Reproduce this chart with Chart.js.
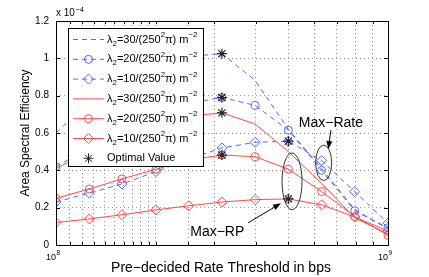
<!DOCTYPE html>
<html>
<head>
<meta charset="utf-8">
<script src="https://cdn.jsdelivr.net/npm/chart.js@4.4.0/dist/chart.umd.min.js"></script>
<style>
html, body { margin: 0; padding: 0; background: #fff; }
#wrap { width: 429px; height: 277px; }
</style>
</head>
<body>
<div id="wrap"><canvas id="chart"></canvas></div>
<script>
// rate thresholds (bps), log spaced
const thresholds = [1e8, 1.26e8, 1.58e8, 2e8, 2.51e8, 3.16e8, 3.98e8, 5.01e8, 6.31e8, 7.94e8, 1e9];

// area spectral efficiency, x 1e-4
const maxRate30 = [0.60, 0.77, 0.89, 0.97, 1.01, 1.025, 0.882, 0.62, 0.41, 0.19, 0.085];
const maxRate20 = [0.42, 0.52, 0.61, 0.69, 0.76, 0.79, 0.748, 0.615, 0.40, 0.183, 0.092];
const maxRate10 = [0.23, 0.278, 0.327, 0.393, 0.46, 0.52, 0.55, 0.556, 0.452, 0.286, 0.117];
const maxRp30 = [0.41, 0.50, 0.58, 0.64, 0.69, 0.708, 0.648, 0.50, 0.33, 0.145, 0.06];
const maxRp20 = [0.25, 0.30, 0.354, 0.406, 0.455, 0.482, 0.473, 0.406, 0.286, 0.153, 0.052];
const maxRp10 = [0.12, 0.14, 0.162, 0.188, 0.21, 0.23, 0.243, 0.247, 0.215, 0.15, 0.075];

const optimalX = [3.16e8, 3.16e8, 3.16e8, 3.16e8, 5.01e8, 5.01e8];
const optimalY = [1.025, 0.79, 0.708, 0.482, 0.556, 0.247];

const densities = ['30', '20', '10', '30', '20', '10'];
const yTicks = [0, 0.2, 0.4, 0.6, 0.8, 1, 1.2];
const xTickExp = { 1e8: '8', 1e9: '9' };

const blue = '#5568ee';
const red = '#ff4848';
const dark = '#222';
const FONT = '"Liberation Sans", Arial, Helvetica, sans-serif';

const pts = ys => ys.map((y, i) => ({ x: thresholds[i], y: y }));

const series = [
    { data: maxRate30, color: blue, dash: [5, 4], style: false },
    { data: maxRate20, color: blue, dash: [5, 4], style: 'circle' },
    { data: maxRate10, color: blue, dash: [5, 4], style: 'rectRot' },
    { data: maxRp30, color: red, dash: [], style: false },
    { data: maxRp20, color: red, dash: [], style: 'circle' },
    { data: maxRp10, color: red, dash: [], style: 'rectRot' }
];

const datasets = [{
    label: 'Optimal Value',
    data: optimalX.map((x, i) => ({ x: x, y: optimalY[i] })),
    showLine: false,
    pointStyle: 'star',
    pointRadius: 5,
    borderColor: dark,
    borderWidth: 1.2,
    backgroundColor: 'transparent'
}].concat(series.map((s, i) => ({
    label: densities[i],
    data: pts(s.data),
    showLine: true,
    borderColor: s.color,
    borderWidth: 1,
    borderDash: s.dash,
    backgroundColor: 'transparent',
    pointStyle: s.style || 'circle',
    pointRadius: s.style ? (s.style === 'rectRot' ? 5 : 4) : 0,
    pointBorderWidth: 1,
    pointBorderColor: s.color,
    pointBackgroundColor: 'transparent'
})));

// annotations in data units (ellipse rx in px)
const ellipses = [
    { x: 5.14e8, y: 0.341, rx: 10, ry: 0.152 },
    { x: 6.4e8, y: 0.44, rx: 8, ry: 0.095 }
];
const arrows = [
    { from: [6.73e8, 0.615], to: [6.61e8, 0.514] },
    { from: [3.79e8, 0.119], to: [4.76e8, 0.223] }
];
const notes = [
    { text: 'Max\u2212Rate', x: 6.73e8, y: 0.634 },
    { text: 'Max\u2212RP', x: 3.06e8, y: 0.047 }
];

function drawRich(ctx, segs, x, y, size) {
    ctx.textBaseline = 'middle';
    ctx.textAlign = 'left';
    segs.forEach(seg => {
        const small = seg[1] !== 0;
        ctx.font = (small ? size * 0.72 : size) + 'px ' + FONT;
        const dy = seg[1] === 1 ? size * 0.35 : (seg[1] === -1 ? -size * 0.42 : 0);
        ctx.fillText(seg[0], x, y + dy);
        x += ctx.measureText(seg[0]).width;
    });
}

function lambdaLabel(d) {
    return [['\u03bb', 0], ['2', 1], ['=' + d + '/(250', 0], ['2', -1], ['\u03c0) m', 0], ['\u22122', -1]];
}

const decorPlugin = {
    id: 'decor',
    afterDraw(chart) {
        const ctx = chart.ctx;
        const a = chart.chartArea;
        const xs = chart.scales.x, ys = chart.scales.y;
        ctx.save();

        // box
        ctx.strokeStyle = '#000';
        ctx.lineWidth = 1;
        ctx.setLineDash([]);
        ctx.strokeRect(a.left + 0.5, a.top + 0.5, a.right - a.left, a.bottom - a.top);

        // inward ticks
        ctx.beginPath();
        ys.ticks.forEach(t => {
            const py = Math.round(ys.getPixelForValue(t.value)) + 0.5;
            ctx.moveTo(a.left, py); ctx.lineTo(a.left + 4, py);
            ctx.moveTo(a.right, py); ctx.lineTo(a.right - 4, py);
        });
        xs.ticks.forEach(t => {
            const px = Math.round(xs.getPixelForValue(t.value)) + 0.5;
            const len = xTickExp[t.value] ? 5 : 3;
            ctx.moveTo(px, a.bottom); ctx.lineTo(px, a.bottom - len);
            ctx.moveTo(px, a.top); ctx.lineTo(px, a.top + len);
        });
        ctx.stroke();

        // decade labels 10^n under the x axis
        ctx.fillStyle = '#000';
        ctx.textBaseline = 'alphabetic';
        xs.ticks.forEach(t => {
            const e = xTickExp[t.value];
            if (!e) return;
            const px = xs.getPixelForValue(t.value);
            ctx.font = '9px ' + FONT;
            ctx.textAlign = 'right';
            ctx.fillText('10', px, a.bottom + 14.5);
            ctx.font = '6.5px ' + FONT;
            ctx.textAlign = 'left';
            ctx.fillText(e, px + 0.5, a.bottom + 10);
        });

        // ellipses
        ctx.strokeStyle = '#333';
        ellipses.forEach(e => {
            const cx = xs.getPixelForValue(e.x), cy = ys.getPixelForValue(e.y);
            const ry = Math.abs(ys.getPixelForValue(e.y + e.ry) - cy);
            ctx.beginPath();
            ctx.ellipse(cx, cy, e.rx, ry, 0, 0, Math.PI * 2);
            ctx.stroke();
        });

        // arrows
        ctx.fillStyle = '#000';
        ctx.strokeStyle = '#000';
        arrows.forEach(ar => {
            const x1 = xs.getPixelForValue(ar.from[0]), y1 = ys.getPixelForValue(ar.from[1]);
            const x2 = xs.getPixelForValue(ar.to[0]), y2 = ys.getPixelForValue(ar.to[1]);
            const ang = Math.atan2(y2 - y1, x2 - x1);
            ctx.beginPath();
            ctx.moveTo(x1, y1); ctx.lineTo(x2 - 5 * Math.cos(ang), y2 - 5 * Math.sin(ang));
            ctx.stroke();
            ctx.beginPath();
            ctx.moveTo(x2, y2);
            ctx.lineTo(x2 - 8 * Math.cos(ang) + 3 * Math.sin(ang), y2 - 8 * Math.sin(ang) - 3 * Math.cos(ang));
            ctx.lineTo(x2 - 8 * Math.cos(ang) - 3 * Math.sin(ang), y2 - 8 * Math.sin(ang) + 3 * Math.cos(ang));
            ctx.closePath();
            ctx.fill();
        });

        // annotation texts
        ctx.font = '14px ' + FONT;
        ctx.textAlign = 'center';
        ctx.textBaseline = 'alphabetic';
        notes.forEach(n => {
            ctx.fillText(n.text, xs.getPixelForValue(n.x), ys.getPixelForValue(n.y));
        });

        // legend
        const lx = 68, ly = 28, lw = 135, lh = 138;
        ctx.fillStyle = '#fff';
        ctx.fillRect(lx, ly, lw, lh);
        ctx.strokeStyle = '#000';
        ctx.strokeRect(lx + 0.5, ly + 0.5, lw, lh);
        const entries = chart.data.datasets.slice(1).concat(chart.data.datasets.slice(0, 1));
        entries.forEach((ds, i) => {
            const cy = 39.5 + i * 19.8;
            ctx.setLineDash(ds.showLine ? ds.borderDash : []);
            ctx.strokeStyle = ds.borderColor;
            ctx.lineWidth = 1;
            if (ds.showLine) {
                ctx.beginPath();
                ctx.moveTo(73, cy); ctx.lineTo(104, cy);
                ctx.stroke();
            }
            ctx.setLineDash([]);
            const r = ds.pointRadius;
            if (r > 0) {
                ctx.strokeStyle = ds.showLine ? ds.pointBorderColor : ds.borderColor;
                ctx.fillStyle = 'transparent';
                Chart.helpers.drawPoint(ctx, { pointStyle: ds.pointStyle, radius: r, borderWidth: 1, rotation: 0 }, 88.5, cy);
            }
            ctx.fillStyle = '#000';
            if (ds.showLine) {
                drawRich(ctx, lambdaLabel(ds.label), 107, cy, 11);
            } else {
                ctx.font = '11px ' + FONT;
                ctx.textBaseline = 'middle';
                ctx.textAlign = 'left';
                ctx.fillText(ds.label, 107, cy);
            }
        });

        // exponent label
        ctx.fillStyle = '#000';
        ctx.textAlign = 'left';
        ctx.textBaseline = 'alphabetic';
        ctx.font = '10px ' + FONT;
        ctx.fillText('x 10', 56, 16);
        const w = ctx.measureText('x 10').width;
        ctx.font = '7.5px ' + FONT;
        ctx.fillText('\u22124', 56 + w + 0.5, 11.5);

        // axis titles
        ctx.font = '14px ' + FONT;
        ctx.textAlign = 'center';
        ctx.textBaseline = 'middle';
        ctx.fillText('Pre\u2212decided Rate Threshold in bps', 221, 268.5);
        ctx.save();
        ctx.translate(26, 133);
        ctx.rotate(-Math.PI / 2);
        ctx.font = '12px ' + FONT;
        ctx.fillText('Area Spectral Efficiency', 0, 0);
        ctx.restore();

        ctx.restore();
    }
};

new Chart(document.getElementById('chart'), {
    type: 'scatter',
    data: { datasets: datasets },
    options: {
        responsive: true,
        maintainAspectRatio: false,
        animation: false,
        events: [],
        layout: { padding: { top: 21, right: 41, left: 0, bottom: 0 } },
        plugins: { legend: { display: false }, tooltip: { enabled: false } },
        scales: {
            x: {
                type: 'logarithmic',
                min: 1e8,
                max: 1e9,
                afterFit: s => { s.height = 32; },
                grid: { color: '#999', lineWidth: 1, drawTicks: false },
                border: { display: false, dash: [1, 3] },
                ticks: {
                    autoSkip: false,
                    maxRotation: 0,
                    padding: 6,
                    font: { family: FONT, size: 9 },
                    callback: () => ''
                }
            },
            y: {
                min: 0,
                max: 1.2,
                afterFit: s => { s.width = 56; },
                afterBuildTicks: s => { s.ticks = yTicks.map(v => ({ value: v })); },
                grid: { color: '#999', lineWidth: 1, drawTicks: false },
                border: { display: false, dash: [1, 3] },
                ticks: {
                    padding: 7,
                    color: '#000',
                    font: { family: FONT, size: 10 },
                    callback: v => String(Math.round(v * 10) / 10)
                }
            }
        }
    },
    plugins: [decorPlugin]
});
</script>
</body>
</html>
